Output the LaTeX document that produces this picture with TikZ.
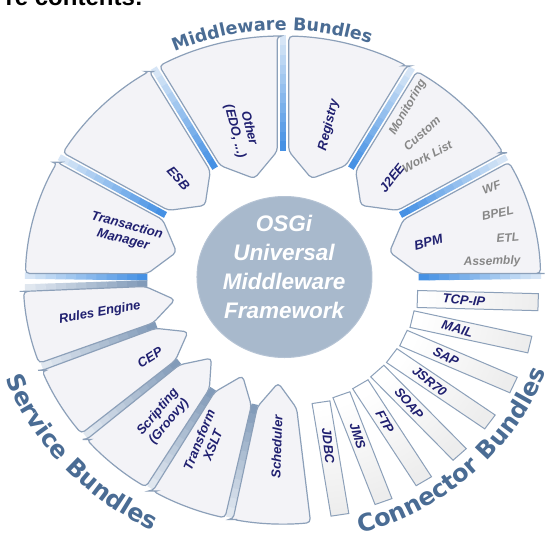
\documentclass[tikz,border=0pt]{standalone}
\usepackage{fontspec}
\setmainfont{Liberation Sans}
\newfontfamily\arcfam{DejaVu Sans}
\usetikzlibrary{calc,shapes.geometric,decorations.text}
\definecolor{navy}{RGB}{32,32,112}
\definecolor{subgray}{RGB}{135,135,135}
\definecolor{segfill}{RGB}{243,243,247}
\definecolor{segborder}{RGB}{140,160,185}
\definecolor{dvin}{RGB}{70,145,228}
\definecolor{dvout}{RGB}{215,230,246}
\definecolor{svin}{RGB}{130,155,185}
\definecolor{svout}{RGB}{225,232,240}
\definecolor{hubfill}{RGB}{168,185,204}
\definecolor{arcblue}{RGB}{74,108,148}
\newcommand\mwfont{\arcfam\bfseries\fontsize{17.5}{21}\selectfont}
\newcommand\bgfont{\arcfam\bfseries\fontsize{24}{28}\selectfont}
\tikzset{
  segshape/.style={fill=segfill, draw=segborder, line width=1.2pt, rounded corners=4pt},
  lbl/.style={text=navy, font=\bfseries\itshape\fontsize{13}{14.5}\selectfont, align=center, inner sep=0pt},
  sublbl/.style={text=subgray, font=\bfseries\itshape\fontsize{12}{14}\selectfont, inner sep=0pt},
  barstyle/.style={draw=segborder, line width=1pt, left color=white, right color=black!7},
  hubtxt/.style={text=white, font=\bfseries\itshape\fontsize{22.5}{29}\selectfont, align=center, inner sep=0pt},
}
\newcommand\mdiv[3]{%
  \foreach \k in {0,...,11}{%
    \pgfmathsetmacro\ra{128+\k*9.6}\pgfmathsetmacro\rb{\ra+10}%
    \pgfmathtruncatemacro\pc{100-\k*9}%
    \draw[line width=6.5pt, color=#2!\pc!#3] (#1:\ra) -- (#1:\rb);}}
\newcommand\mseg[2]{%
  \pgfmathsetmacro\ao{#1+1.3}\pgfmathsetmacro\ai{#1+2.4}%
  \pgfmathsetmacro\bo{#2-1.3}\pgfmathsetmacro\bi{#2-2.4}%
  \pgfmathsetmacro\am{(#1+#2)/2}%
  \filldraw[segshape] (\ao:243) -- (\ai:128) -- (\am:104) -- (\bi:128) -- (\bo:243)
    arc[start angle=\bo, end angle=\ao, x radius=257.6pt, y radius=243pt] -- cycle;}
\newcommand\sseg[1]{%
  \pgfmathsetmacro\ao{#1-8.6}\pgfmathsetmacro\ai{#1-8.2}%
  \pgfmathsetmacro\bo{#1+8.6}\pgfmathsetmacro\bi{#1+8.2}%
  \filldraw[segshape] (\ao:245) -- (\ai:130) -- (#1:104) -- (\bi:130) -- (\bo:245)
    arc[start angle=\bo, end angle=\ao, x radius=259.7pt, y radius=245pt] -- cycle;}
\newcommand\cbar[4]{%
  \path[barstyle, shading angle={#2+90}]
    ($(#1:185)+({#2+180}:57)+({#2+90}:8.5)$) -- ($(#1:185)+(#2:57)+({#2+90}:8.5)$) --
    ($(#1:185)+(#2:57)+({#2-90}:8.5)$) -- ($(#1:185)+({#2+180}:57)+({#2-90}:8.5)$) -- cycle;
  \node[lbl, rotate={#2-3}] (#4) at ($(#1:185)+({#2+180}:13)$) {#3};}
\begin{document}
\begin{tikzpicture}[x={(1.06pt,0)}, y={(0,1pt)}]
\useasboundingbox (-266.98,-262) rectangle (250.94,279);
\clip (-266.98,-262) rectangle (250.94,279);
\fill[white] (-266.98,-262) rectangle (250.94,279);

% cut-off heading
\node[anchor=base east, inner sep=0pt, font=\bfseries\fontsize{24}{26}\selectfont] (heading) at (-132,273.5) {re contents:};

% dividers
\foreach \a in {0.8,30,60,90,120,150,179.2}{\mdiv{\a}{dvin}{dvout}}
\foreach \a in {182,201,220,239,258}{\mdiv{\a}{svin}{svout}}

% middleware segments
\foreach \a/\b in {0/30,30/60,60/90,90/120,120/150,150/180}{\mseg{\a}{\b}}
% service segments
\foreach \c in {191.5,210.5,229.5,248.5,267.5}{\sseg{\c}}

% connector bars
\cbar{-6.7}{-1.6}{TCP-IP}{tcp}
\cbar{-16.6}{-12.9}{MAIL}{mail}
\cbar{-26.5}{-24.3}{SAP}{sap}
\cbar{-36.4}{-35.6}{JSR70}{jsr}
\cbar{-46.3}{-47}{SOAP}{soap}
\cbar{-56.2}{-58.3}{FTP}{ftp}
\cbar{-66.1}{-69.6}{JMS}{jms}
\cbar{-76}{-81}{JDBC}{jdbc}

% hub
\node[ellipse, fill=hubfill, draw=hubfill!85!white, line width=1pt, minimum width=175pt, minimum height=161pt, inner sep=0pt] (hub) at (1.4,2) {};
\node[hubtxt] (hubtext) at (1,12) {OSGi\\Universal\\Middleware\\Framework};

% middleware labels
\node[lbl, rotate=-15] (trans) at (162.8:156) {Transaction\\Manager};
\node[lbl, rotate=-48] (esb) at (134.4:141) {ESB};
\node[lbl, rotate=-76] (other) at (104.6:154) {Other\\(EDO, ...)};
\node[lbl, rotate=76] (registry) at (74.3:160) {Registry};
\node[lbl, rotate=52] (j2ee) at (44.5:144) {J2EE};
\node[sublbl, rotate=60] (monitoring) at (55.5:208) {Monitoring};
\node[sublbl, rotate=42] (custom) at (48:196) {Custom};
\node[sublbl, rotate=28] (worklist) at (42:183) {Work List};
\node[lbl, rotate=15] (bpm) at (15:142) {BPM};
\node[sublbl, rotate=20] (wf) at (25:217) {WF};
\node[sublbl, rotate=12] (bpel) at (18:213) {BPEL};
\node[sublbl, rotate=5] (etl) at (11:216) {ETL};
\node[sublbl, rotate=2] (assembly) at (5:198) {Assembly};

% service labels
\node[lbl, rotate=10] (rules) at (191:176) {Rules Engine};
\node[lbl, rotate=32] (cep) at (212:148) {CEP};
\node[lbl, rotate=50] (scripting) at (230.7:178) {Scripting\\(Groovy)};
\node[lbl, rotate=68] (transform) at (246:179) {Transform\\XSLT};
\node[lbl, rotate=88] (scheduler) at (268:168) {Scheduler};

% arc titles
\path[decorate, decoration={text along path, text={|\mwfont|Middleware Bundles}, text align=center, text color=arcblue}]
  (138:249) arc[start angle=138, end angle=47, x radius=263.94pt, y radius=249pt];
\path[decorate, decoration={text along path, text={|\bgfont|Service Bundles}, text align=center, text color=arcblue}]
  (188:280) arc[start angle=188, end angle=256, x radius=296.8pt, y radius=280pt];
\path[decorate, decoration={text along path, text={|\bgfont|Connector Bundles}, text align=center, text color=arcblue}]
  (276:265) arc[start angle=276, end angle=350, x radius=280.9pt, y radius=265pt];
\end{tikzpicture}
\end{document}
